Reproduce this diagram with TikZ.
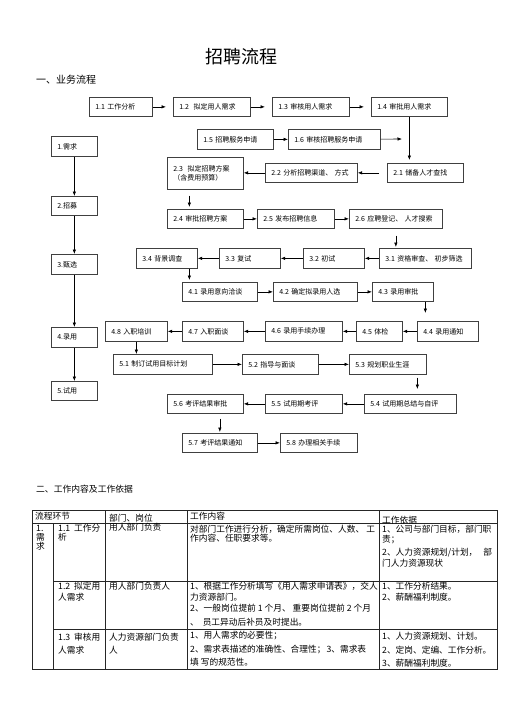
\documentclass[tikz,border=0pt]{standalone}
\usepackage{fontspec}
\setmainfont{Noto Sans CJK SC}
\usetikzlibrary{arrows.meta}
\tikzset{
  box/.style={draw=black!75, line width=0.7pt, anchor=north west, inner xsep=6pt, inner ysep=1pt, align=left, font=\fontsize{7}{8.5}\selectfont},
  arr/.style={-{Latex[length=4.5pt,width=3.5pt]}, line width=0.6pt, black},
  tline/.style={anchor=west, inner sep=0pt, font=\fontsize{8.7}{10}\selectfont},
  grid/.style={line width=0.6pt, black!85}
}
\newcommand\bx[6]{\node[box, minimum width=#4pt, minimum height=#5pt, text width=#4pt-12pt] (#1) at (#2,#3) {#6};}
\newcommand\tl[4]{\node[tline] (#1) at (#2,#3) {#4};}
\begin{document}
\begin{tikzpicture}[x=1pt,y=-1pt]
\useasboundingbox (0,0) rectangle (504,713);
% titles
\node[inner sep=0pt, font=\fontsize{18}{20}\selectfont] (title) at (241,57) {招聘流程};
\node[anchor=west, inner sep=0pt, font=\fontsize{10}{12}\selectfont] (sec1) at (36,80) {一、业务流程};
\node[anchor=west, inner sep=0pt, font=\fontsize{8.8}{10}\selectfont] (sec2) at (36,489) {二、工作内容及工作依据};
% left column
\bx{s1}{51}{136}{46}{20}{1.需求}
\bx{s2}{51}{196}{46}{19}{2.招募}
\bx{s3}{51}{254}{46}{20}{3.甄选}
\bx{s4}{51}{327}{46}{20}{4.录用}
\bx{s5}{51}{381}{46}{19}{5.试用}
% boxes
\bx{n11}{89}{97}{63}{19}{1.1 工作分析}
\bx{n12}{173}{97}{77}{19}{1.2\ \ 拟定用人需求}
\bx{n13}{272}{97}{77}{19}{1.3 审核用人需求}
\bx{n14}{371}{97}{76}{19}{1.4 审批用人需求}
\bx{n15}{197}{129}{76}{20}{1.5 招聘服务申请}
\bx{n16}{288}{129}{92}{20}{1.6 审核招聘服务申请}
\bx{n23}{167}{157}{76}{32}{2.3\ \ 拟定招聘方案\\（含费用预算）}
\bx{n22}{265}{163}{92}{19}{2.2 分析招聘渠道、 方式}
\bx{n21}{387}{163}{76}{19}{2.1 储备人才查找}
\bx{n24}{167}{209}{76}{19}{2.4 审批招聘方案}
\bx{n25}{257}{209}{77}{19}{2.5 发布招聘信息}
\bx{n26}{349}{209}{93}{19}{2.6 应聘登记、 人才搜索}
\bx{n34}{136}{248}{61}{20}{3.4 背景调查}
\bx{n33}{219}{248}{61}{20}{3.3 复试}
\bx{n32}{303}{248}{61}{20}{3.2 初试}
\bx{n31}{379}{248}{92}{20}{3.1 资格审查、 初步筛选}
\bx{n41}{182}{282}{75}{19}{4.1 录用意向洽谈}
\bx{n42}{273}{282}{84}{19}{4.2 确定拟录用人选}
\bx{n43}{372}{282}{61}{19}{4.3 录用审批}
\bx{n44}{417}{321}{61}{20}{4.4 录用通知}
\bx{n45}{356}{321}{46}{20}{4.5 体检}
\bx{n46}{265}{321}{77}{20}{4.6 录用手续办理}
\bx{n47}{182}{321}{61}{20}{4.7 入职面谈}
\bx{n48}{105}{321}{62}{20}{4.8 入职培训}
\bx{n51}{113}{354}{99}{20}{5.1 制订试用目标计划}
\bx{n52}{242}{354}{76}{20}{5.2 指导与面谈}
\bx{n53}{349}{354}{77}{20}{5.3 规划职业生涯}
\bx{n54}{364}{394}{92}{19}{5.4 试用期总结与自评}
\bx{n55}{265}{394}{77}{19}{5.5 试用期考评}
\bx{n56}{167}{394}{76}{19}{5.6 考评结果审批}
\bx{n57}{182}{433}{75}{19}{5.7 考评结果通知}
\bx{n58}{280}{433}{77}{19}{5.8 办理相关手续}
% left arrows
\draw[arr] (s1) -- (s2);
\draw[arr] (s2) -- (s3);
\draw[arr] (s3) -- (s4);
\draw[arr] (s4) -- (s5);
% flow arrows
\draw[arr, shorten >=7pt] (n11) -- (n12);
\draw[arr, shorten >=7pt] (n12) -- (n13);
\draw[arr, shorten >=7pt] (n13) -- (n14);
\draw[arr] (n15) -- (n16);
\coordinate (f16) at (402,139);
\draw[arr] (n16) -- (f16);
\draw[arr, shorten >=3pt] (n14.south) -- (n14.south |- n21.north);
\draw[arr, shorten <=8pt] (n21) -- (n22);
\draw[arr] (n22.west) -- (n22.west -| n23.east);
\draw[arr, shorten <=6pt, shorten >=2pt] ([xshift=-16pt]n23.south) -- ([xshift=-16pt]n24.north);
\draw[arr] (n24) -- (n25);
\draw[arr] (n25) -- (n26);
\draw[arr, shorten <=7pt, shorten >=1pt] (n26.south) -- (n26.south |- n31.north);
\draw[arr] (n31) -- (n32);
\draw[arr] (n32) -- (n33);
\draw[arr] (n33) -- (n34);
\draw[arr, shorten >=2pt] ([xshift=22.5pt]n34.south) -- ([xshift=22.5pt]n34.south |- n41.north);
\draw[arr] (n41) -- (n42);
\draw[arr] (n42) -- (n43);
\draw[arr, shorten >=8pt] ([xshift=22.5pt]n43.south) -- ([xshift=22.5pt]n43.south |- n44.north);
\draw[arr] (n44) -- (n45);
\draw[arr] (n45) -- (n46);
\draw[arr] (n46) -- (n47);
\draw[arr] (n47) -- (n48);
\draw[arr] (n48.south) -- (n48.south |- n51.north);
\draw[arr] (n51) -- (n52);
\draw[arr] (n52) -- (n53);
\draw[arr, shorten <=3pt, shorten >=5pt] ([xshift=29.5pt]n53.south) -- ([xshift=29.5pt]n53.south |- n54.north);
\draw[arr] (n54) -- (n55);
\draw[arr] (n55) -- (n56);
\draw[arr, shorten <=5pt, shorten >=1pt] (n57.north |- n56.south) -- (n57.north);
\draw[arr] (n57) -- (n58);
% table grid
\draw[grid] (32,510) rectangle (497,669);
\draw[grid] (32,523) -- (497,523);
\draw[grid] (53,523) -- (53,669);
\draw[grid] (105,510) -- (105,669);
\draw[grid] (187,510) -- (187,669);
\draw[grid] (379,510) -- (379,669);
\draw[grid] (53,581) -- (497,581);
\draw[grid] (53,629) -- (497,629);
% header
\tl{h1}{35}{516}{流程环节}
\tl{h2}{109}{518}{部门、岗位}
\tl{h3}{190}{516}{工作内容}
\tl{h4}{382}{520}{工作依据}
% row 1
\tl{r1a}{36}{528}{1.}
\tl{r1b}{36}{537}{需}
\tl{r1c}{36}{546}{求}
\tl{t11a}{58}{528}{1.1\ \ 工作分}
\tl{t11b}{58}{537}{析}
\tl{d1}{109}{527}{用人部门负责}
\tl{c1a}{190}{529}{\makebox[185pt][l]{对部门工作进行分析，确定所需岗位、人数、\hfill 工}}
\tl{c1b}{190}{538}{作内容、任职要求等。}
\tl{b1a}{382}{529}{1、公司与部门目标，部门职}
\tl{b1b}{382}{540}{责；}
\tl{b1c}{382}{553}{\makebox[110pt][l]{2、人力资源规划/计划，\hfill 部}}
\tl{b1d}{382}{563}{门人力资源现状}
% row 2
\tl{t12a}{58}{586}{1.2\ \ 拟定用}
\tl{t12b}{58}{597}{人需求}
\tl{d2}{109}{586}{用人部门负责人}
\tl{c2a}{190}{586}{\makebox[177pt][l]{1、根据工作分析填写《用人需求申请表》，\hfill 交人}}
\tl{c2b}{190}{597}{力资源部门。}
\tl{c2c}{190}{608}{2、一般岗位提前 1 个月、 重要岗位提前 2 个月}
\tl{c2d}{190}{622}{、\ \ 员工异动后补员及时提出。}
\tl{b2a}{382}{586}{1、工作分析结果。}
\tl{b2b}{382}{597}{2、薪酬福利制度。}
% row 3
\tl{t13a}{58}{637}{1.3\ \ 审核用}
\tl{t13b}{58}{650}{人需求}
\tl{d3a}{109}{637}{人力资源部门负责}
\tl{d3b}{109}{650}{人}
\tl{c3a}{190}{636}{1、用人需求的必要性；}
\tl{c3b}{190}{650}{\makebox[176pt][l]{2、需求表描述的准确性、合理性；\hfill 3、需求表}}
\tl{c3c}{190}{662}{填 写的规范性。}
\tl{b3a}{382}{636}{1、人力资源规划、计划。}
\tl{b3b}{382}{650}{2、定岗、定编、工作分析。}
\tl{b3c}{382}{663}{3、薪酬福利制度。}
\end{tikzpicture}
\end{document}
